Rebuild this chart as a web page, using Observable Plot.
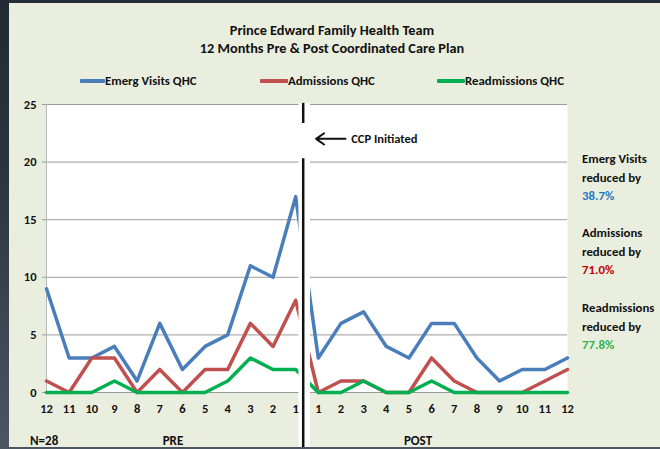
<!DOCTYPE html>
<html><head><meta charset="utf-8">
<script src="https://cdn.jsdelivr.net/npm/d3@7"></script>
<script src="https://cdn.jsdelivr.net/npm/@observablehq/plot@0.6"></script>
<style>
html,body{margin:0;padding:0;background:#28313b;}
#wrap{position:relative;width:660px;height:449px;overflow:hidden;background:#eaeedf;
  font-family:Carlito,"Liberation Sans Narrow","DejaVu Sans Condensed",sans-serif;font-weight:bold;color:#111;}
.abs{position:absolute;white-space:nowrap;line-height:1;}
.c{transform:translate(-50%,-50%);}
.l{transform:translateY(-50%);}
#chart{position:absolute;left:0;top:0;}
.sw{position:absolute;height:4px;border-radius:1px;}
.strip{position:absolute;z-index:5;}
</style></head><body>
<div id="wrap">
  <div id="chart"></div>
  <div class="abs c" style="left:332px;top:30px;font-size:14.3px;">Prince Edward Family Health Team</div>
  <div class="abs c" style="left:332px;top:48px;font-size:14.3px;">12 Months Pre &amp; Post Coordinated Care Plan</div>
  <div id="legend"></div>
  <div id="notes"></div>
  <div class="abs l" style="left:30px;top:440px;font-size:13px;">N=28</div>
  <div class="abs c" style="left:173px;top:440px;font-size:13px;">PRE</div>
  <div class="abs c" style="left:418px;top:440px;font-size:13px;">POST</div>
  <div class="strip" style="left:0;top:0;width:660px;height:3px;background:#252d36;"></div>
  <div class="strip" style="left:0;top:0;width:9px;height:449px;background:linear-gradient(#222a33,#2c353f 40%,#4b5662);"></div>
  <div class="strip" style="left:0;top:447px;width:660px;height:2px;background:#4b5661;"></div>
</div>
<script>
// Data
const preLabels  = ["12","11","10","9","8","7","6","5","4","3","2","1"];
const postLabels = ["1","2","3","4","5","6","7","8","9","10","11","12"];
const seriesNames = ["Emerg Visits QHC","Admissions QHC","Readmissions QHC"];
const seriesColors = ["#4a7ebb","#c0504d","#00b050"];
const emergPre  = [9,3,3,4,1,6,2,4,5,11,10,17];
const emergPost = [3,6,7,4,3,6,6,3,1,2,2,3];
const admPre    = [1,0,3,3,0,2,0,2,2,6,4,8];
const admPost   = [0,1,1,0,0,3,1,0,0,0,1,2];
const readmPre  = [0,0,0,1,0,0,0,0,1,3,2,2];
const readmPost = [0,0,1,0,0,1,0,0,0,0,0,0];
const yTicks = [0,5,10,15,20,25];
const reductions = ["38.7%","71.0%","77.8%"];
const reductionLabels = ["Emerg Visits","Admissions","Readmissions"];
const reductionColors = ["#1f78c1","#c00000","#2db34a"];
const annotation = "CCP Initiated";

const labels = [...preLabels, ...postLabels];
const allSeries = [[...emergPre,...emergPost],[...admPre,...admPost],[...readmPre,...readmPost]];
const data = [];
allSeries.forEach((vals,s)=>vals.forEach((v,i)=>data.push({series:seriesNames[s], i, v})));

const divider = 11.5; // between pre "1" and post "1"
const font = 'Carlito,"Liberation Sans Narrow","DejaVu Sans Condensed",sans-serif';

const chart = Plot.plot({
  width:660, height:449,
  marginLeft:46, marginRight:93, marginTop:104, marginBottom:57,
  x:{domain:[0,23], axis:null},
  y:{domain:[0,25], axis:null},
  color:{domain:seriesNames, range:seriesColors},
  style:{background:"transparent", fontFamily:font, fontWeight:"bold", fontSize:"12px", color:"#111", overflow:"visible"},
  marks:[
    Plot.frame({fill:"white", stroke:null}),
    Plot.ruleY(yTicks, {stroke:"#9a9a9a", strokeWidth:1}),
    Plot.ruleX([0], {stroke:"#b8b8b8"}),
    Plot.axisY({ticks:yTicks, tickSize:4, tickPadding:6, stroke:"#9a9a9a", fill:"#111", label:null, fontSize:12.5}),
    Plot.axisX({ticks:d3.range(labels.length), tickFormat:i=>labels[i], tickSize:0, tickPadding:12, label:null, fontSize:12.5}),
    Plot.line(data, {x:"i", y:"v", z:"series", stroke:"series", strokeWidth:3.5, strokeLinejoin:"round"}),
    Plot.ruleX([divider], {y1:25.1, y2:-5, stroke:"white", strokeWidth:11.5, dx:-2.8}),
    Plot.ruleX([divider], {y1:25.1, y2:23.35, stroke:"#111", strokeWidth:2.5, dx:-3.8}),
    Plot.ruleX([divider], {y1:20.3, y2:-5, stroke:"#111", strokeWidth:2.5, dx:-3.8}),
    Plot.arrow([{a:13.2, b:11.9, y:22.02}], {x1:"a", x2:"b", y1:"y", y2:"y", stroke:"#111", strokeWidth:2, headLength:8, headAngle:70}),
    Plot.text([annotation], {x:13.45, y:22.02, text:d=>d, textAnchor:"start", fontSize:12.5, fontWeight:"bold", fill:"#111"})
  ]
});
document.getElementById("chart").appendChild(chart);

// Legend
const legendPos = [{sw:80,tx:105},{sw:260,tx:288},{sw:437,tx:465}];
const legend = document.getElementById("legend");
seriesNames.forEach((n,k)=>{
  const sw = document.createElement("div");
  sw.className="sw"; sw.style.left=legendPos[k].sw+"px"; sw.style.top="79px";
  sw.style.width=(legendPos[k].tx-legendPos[k].sw)+"px"; sw.style.background=seriesColors[k];
  legend.appendChild(sw);
  const t = document.createElement("div");
  t.className="abs l"; t.style.left=legendPos[k].tx+"px"; t.style.top="81px"; t.style.fontSize="12.8px";
  t.textContent=n; legend.appendChild(t);
});

// Right notes
const notes = document.getElementById("notes");
const noteTops = [159,233,308];
reductionLabels.forEach((n,k)=>{
  const lines = [[n,"#111"],["reduced by","#111"],[reductions[k],reductionColors[k]]];
  lines.forEach((ln,j)=>{
    const d=document.createElement("div");
    d.className="abs l"; d.style.left="582px"; d.style.top=(noteTops[k]+j*18.5)+"px";
    d.style.fontSize="12.8px"; d.style.color=ln[1]; d.textContent=ln[0];
    notes.appendChild(d);
  });
});
</script>
</body></html>
